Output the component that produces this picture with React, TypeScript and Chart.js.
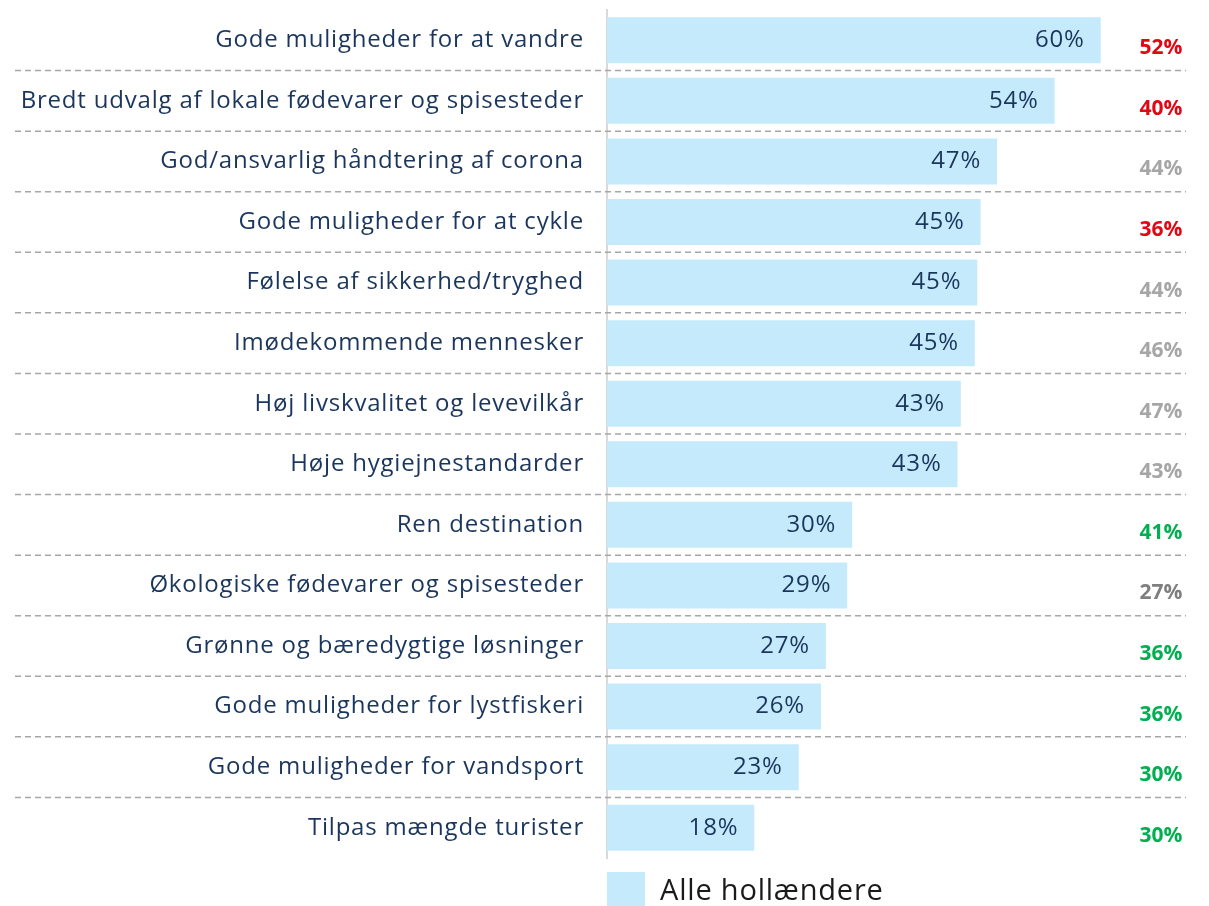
import React, { useEffect, useRef } from "react";
import { Chart, registerables } from "chart.js";

Chart.register(...registerables);

const categories = [
  "Gode muligheder for at vandre",
  "Bredt udvalg af lokale fødevarer og spisesteder",
  "God/ansvarlig håndtering af corona",
  "Gode muligheder for at cykle",
  "Følelse af sikkerhed/tryghed",
  "Imødekommende mennesker",
  "Høj livskvalitet og levevilkår",
  "Høje hygiejnestandarder",
  "Ren destination",
  "Økologiske fødevarer og spisesteder",
  "Grønne og bæredygtige løsninger",
  "Gode muligheder for lystfiskeri",
  "Gode muligheder for vandsport",
  "Tilpas mængde turister",
];

const allValues = [60, 54.4, 47.4, 45.4, 45.0, 44.7, 43.0, 42.6, 29.8, 29.2, 26.6, 26.0, 23.3, 17.9];
const valueLabels = ["60%", "54%", "47%", "45%", "45%", "45%", "43%", "43%", "30%", "29%", "27%", "26%", "23%", "18%"];

const compareValues = ["52%", "40%", "44%", "36%", "44%", "46%", "47%", "43%", "41%", "27%", "36%", "36%", "30%", "30%"];
const compareColors = [
  "#e30613", "#e30613", "#a6a6a6", "#e30613", "#a6a6a6", "#a6a6a6", "#a6a6a6",
  "#a6a6a6", "#00b050", "#7f7f7f", "#00b050", "#00b050", "#00b050", "#00b050",
];

const seriesName = "Alle hollændere";
const barColor = "#c5eafb";
const navy = "#1b365d";
const FONT = "'Open Sans', 'Noto Sans', sans-serif";

export default function App() {
  const ref = useRef<HTMLCanvasElement | null>(null);

  useEffect(() => {
    if (!ref.current) return;
    const overlay = {
      id: "overlay",
      beforeDraw(chart: any) {
        (chart.ctx as any).letterSpacing = "0.8px";
      },
      beforeDatasetsDraw(chart: any) {
        const ctx = chart.ctx;
        const y = chart.scales.y;
        ctx.save();
        ctx.strokeStyle = "#a6a6a6";
        ctx.lineWidth = 1.5;
        ctx.setLineDash([6, 4]);
        for (let i = 0; i < categories.length - 1; i++) {
          const py = (y.getPixelForValue(i) + y.getPixelForValue(i + 1)) / 2;
          ctx.beginPath();
          ctx.moveTo(15, py);
          ctx.lineTo(1186, py);
          ctx.stroke();
        }
        ctx.restore();
      },
      afterDatasetsDraw(chart: any) {
        const ctx = chart.ctx;
        const meta = chart.getDatasetMeta(0);
        ctx.save();
        ctx.letterSpacing = "0.8px";
        ctx.font = `24px ${FONT}`;
        ctx.fillStyle = navy;
        ctx.textAlign = "right";
        ctx.textBaseline = "middle";
        meta.data.forEach((bar: any, i: number) => {
          ctx.fillText(valueLabels[i], bar.x - 16, bar.y);
        });
        ctx.letterSpacing = "0px";
        ctx.font = `bold 21px ${FONT}`;
        ctx.textAlign = "center";
        meta.data.forEach((bar: any, i: number) => {
          ctx.fillStyle = compareColors[i];
          ctx.fillText(compareValues[i], 1161, bar.y + 8);
        });
        // legend
        const left = chart.chartArea.left;
        ctx.fillStyle = barColor;
        ctx.fillRect(left, 872, 38, 40);
        ctx.fillStyle = "#1a1a1a";
        ctx.textAlign = "left";
        ctx.letterSpacing = "0.8px";
        ctx.font = `29px ${FONT}`;
        ctx.fillText(seriesName, left + 53, 892);
        ctx.restore();
      },
    };

    const chart = new Chart(ref.current, {
      type: "bar",
      data: {
        labels: categories,
        datasets: [
          {
            label: seriesName,
            data: allValues,
            backgroundColor: barColor,
            barPercentage: 0.76,
            categoryPercentage: 1,
          },
        ],
      },
      options: {
        indexAxis: "y",
        responsive: false,
        animation: false,
        layout: { padding: { top: 10, bottom: 48, right: 26, left: 0 } },
        plugins: { legend: { display: false }, tooltip: { enabled: false } },
        scales: {
          x: { display: false, min: 0, max: 70 },
          y: {
            grid: { display: false, drawTicks: false },
            border: { display: true, color: "#d9d9d9", width: 2 },
            ticks: { color: navy, font: { family: FONT, size: 24 }, padding: 23 },
            afterFit(scale: any) {
              scale.width = 607;
              scale.paddingTop = 0;
              scale.paddingBottom = 0;
            },
          },
        },
      },
      plugins: [overlay],
    });
    return () => chart.destroy();
  }, []);

  return (
    <div style={{ position: "absolute", left: 0, top: 0, width: 1209, height: 906, background: "#fff" }}>
      <canvas ref={ref} width={1209} height={906} />
    </div>
  );
}
